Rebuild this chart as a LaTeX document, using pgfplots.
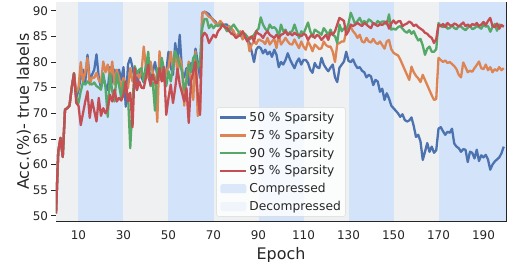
\documentclass[border=0pt]{standalone}
\usepackage{fontspec}
\setmainfont{DejaVu Sans}
\usepackage{pgfplots}
\pgfplotsset{compat=1.18}
\usepackage{pgfplotstable}
\definecolor{sbblue}{HTML}{4C72B0}
\definecolor{sborange}{HTML}{DD8452}
\definecolor{sbgreen}{HTML}{55A868}
\definecolor{sbred}{HTML}{C44E52}
\definecolor{compc}{HTML}{D3E3FA}
\definecolor{decompc}{HTML}{EEF0F2}
\definecolor{decompleg}{HTML}{EEF3FB}
\definecolor{txt}{HTML}{262626}
\pgfplotstableread{
e b o g r
0 50.5 50.5 50.5 50.5
1 62.5 62.5 62.5 62.5
2 65.2 65.2 65.2 65.2
3 61.5 61.5 61.5 61.5
4 70.7 70.7 70.7 70.7
5 71.0 71.0 71.0 71.0
6 71.5 71.5 71.5 71.5
7 75.0 75.0 75.0 75.0
8 77.8 77.8 77.8 77.8
9 73.0 74.0 73.0 72.0
10 74.5 75.0 72.0 71.5
11 77.0 80.0 74.3 67.7
12 78.5 76.2 76.0 70.0
13 76.0 78.0 75.6 72.3
14 81.4 80.8 76.2 74.3
15 76.5 75.6 75.8 69.1
16 77.5 77.0 75.6 72.6
17 78.5 76.9 76.0 70.5
18 81.5 77.9 75.3 68.4
19 77.0 76.5 75.0 73.0
20 75.0 75.9 74.6 69.5
21 77.0 80.1 77.8 71.0
22 75.5 78.0 75.0 70.0
23 74.5 79.5 69.3 71.0
24 79.0 76.9 77.8 73.6
25 76.0 80.1 74.3 72.3
26 78.5 75.6 72.3 74.6
27 77.0 78.5 77.8 72.3
28 78.5 77.0 75.5 73.0
29 76.5 74.9 73.0 72.5
30 79.0 76.9 76.2 73.6
31 71.3 75.5 74.5 76.2
32 79.5 74.9 73.6 72.3
33 80.8 78.8 63.2 74.0
34 79.0 76.2 72.0 67.3
35 76.5 77.5 79.2 78.8
36 74.5 78.2 77.8 74.6
37 78.5 76.9 78.5 76.2
38 77.0 78.0 78.8 75.0
39 76.0 83.0 76.2 74.9
40 79.5 79.0 79.0 77.0
41 77.5 76.9 82.0 79.5
42 75.5 80.1 75.3 75.6
43 78.0 78.0 76.0 77.5
44 80.0 76.9 70.5 76.0
45 77.5 68.3 78.8 75.9
46 76.5 82.1 77.0 78.8
47 79.5 78.0 80.8 76.2
48 77.0 76.2 78.5 79.0
49 78.0 78.2 75.3 69.7
50 82.0 79.0 78.2 73.0
51 79.0 82.0 76.2 75.6
52 77.5 78.8 79.0 72.0
53 83.7 82.0 82.1 75.0
54 80.0 77.9 80.8 78.7
55 85.3 80.8 79.5 75.6
56 78.2 79.0 78.2 74.0
57 77.0 71.5 74.5 72.3
58 78.8 77.0 76.2 74.9
59 75.5 80.1 79.5 68.1
60 79.8 76.0 78.0 76.2
61 78.0 72.6 80.8 78.0
62 82.6 82.1 81.4 80.1
63 80.0 69.5 78.8 73.6
64 76.9 70.0 80.0 69.7
65 89.5 89.6 86.6 84.9
66 89.8 89.8 88.4 85.7
67 89.6 89.3 88.4 85.2
68 89.3 88.8 86.6 83.7
69 88.6 88.6 87.3 84.5
70 88.2 88.0 86.6 85.3
71 87.8 87.5 87.2 84.8
72 87.0 87.3 87.0 86.0
73 87.6 88.0 87.3 86.5
74 87.0 87.5 87.3 87.3
75 87.3 86.8 86.8 86.8
76 87.3 86.6 86.0 86.6
77 86.3 87.0 86.3 86.0
78 86.5 86.5 86.8 85.5
79 85.7 86.0 87.3 85.3
80 84.7 84.7 86.6 84.7
81 85.5 85.5 86.0 85.0
82 85.3 86.0 85.3 85.3
83 84.5 84.4 85.7 86.0
84 85.0 85.3 85.5 85.0
85 84.3 85.0 84.9 84.0
86 83.7 82.1 84.4 84.7
87 82.0 83.4 84.8 85.0
88 80.0 84.0 85.3 84.0
89 82.4 83.5 86.0 86.0
90 83.0 84.4 86.5 85.5
91 82.7 84.2 88.7 85.3
92 81.7 84.0 87.3 84.7
93 82.4 83.5 86.5 85.5
94 81.5 84.7 86.0 86.0
95 82.0 83.4 87.3 85.3
96 81.0 84.0 86.6 85.0
97 82.4 84.5 86.8 84.7
98 81.4 82.7 86.3 85.3
99 79.0 85.3 85.0 84.7
100 80.0 83.4 87.3 85.3
101 79.5 84.0 86.0 85.5
102 80.4 84.7 86.3 86.0
103 81.7 84.0 85.3 85.3
104 80.5 83.5 85.8 85.6
105 79.6 83.4 86.0 85.2
106 78.8 84.4 87.3 85.7
107 80.0 83.5 86.0 85.3
108 80.7 82.7 84.7 85.3
109 79.5 84.0 86.0 85.0
110 80.4 83.0 85.5 85.5
111 80.4 82.4 86.6 85.3
112 79.8 84.0 87.7 84.3
113 78.5 83.2 86.0 85.0
114 77.9 82.1 84.9 85.3
115 79.8 83.4 86.3 84.7
116 79.0 83.0 86.0 85.3
117 78.8 82.5 85.7 85.0
118 80.8 82.7 85.3 84.3
119 79.5 84.0 86.6 84.8
120 78.8 83.3 86.0 85.3
121 78.2 83.0 85.3 84.3
122 78.9 83.0 86.3 85.7
123 79.5 82.0 85.3 85.3
124 77.0 80.0 85.0 86.0
125 76.1 83.5 83.7 87.3
126 78.9 83.7 87.3 88.6
127 79.5 84.0 86.0 88.3
128 80.1 84.0 86.6 88.0
129 82.0 86.0 86.3 85.3
130 80.2 86.5 87.5 86.0
131 80.0 86.8 89.6 87.3
132 80.5 86.0 88.5 87.0
133 79.5 85.5 87.3 87.3
134 78.8 84.7 88.0 87.6
135 79.0 85.3 88.6 87.3
136 78.3 84.0 87.6 87.0
137 78.0 83.8 88.0 87.6
138 77.0 84.7 87.5 87.3
139 77.5 84.0 88.3 86.9
140 77.2 83.8 88.0 86.6
141 75.5 84.5 87.5 87.6
142 76.5 83.8 87.3 87.3
143 76.2 83.5 88.0 87.0
144 74.2 84.0 87.6 87.4
145 74.8 83.3 87.9 87.2
146 72.6 82.6 87.9 87.6
147 73.9 84.0 87.3 87.9
148 72.9 84.3 89.3 86.5
149 71.5 82.5 86.3 87.5
150 71.0 81.8 86.5 88.1
151 70.5 81.5 86.3 87.5
152 70.0 81.3 86.8 87.9
153 69.3 80.5 87.0 88.0
154 69.8 79.5 86.5 87.0
155 68.7 78.5 86.0 87.3
156 68.4 77.5 85.7 87.5
157 68.6 76.5 86.2 87.9
158 69.2 79.1 85.5 87.6
159 67.5 78.0 86.0 87.0
160 65.4 77.3 85.0 87.3
161 65.8 76.8 84.2 86.8
162 64.5 76.1 84.5 86.5
163 60.9 77.5 83.2 86.2
164 62.5 76.5 81.4 85.7
165 64.2 75.5 82.6 85.5
166 62.5 74.5 83.0 85.0
167 63.5 73.5 82.0 84.7
168 62.3 72.6 82.0 83.7
169 62.8 72.8 82.5 84.5
170 67.0 80.8 87.6 87.3
171 67.3 80.4 87.0 87.0
172 66.5 80.0 86.8 87.4
173 65.8 80.3 87.3 86.8
174 66.4 79.8 86.5 87.6
175 66.2 80.0 86.6 87.2
176 67.0 79.6 87.2 87.0
177 64.1 79.2 86.6 87.5
178 63.5 78.6 86.4 87.3
179 63.2 77.5 87.0 86.9
180 62.5 77.0 86.9 87.3
181 63.0 79.9 86.5 87.7
182 62.9 79.0 86.2 87.0
183 60.5 78.0 86.7 87.3
184 62.5 78.3 87.1 86.9
185 62.3 78.1 86.4 87.4
186 61.2 78.8 86.6 87.2
187 62.9 79.4 87.0 87.6
188 60.7 80.1 86.8 87.0
189 61.8 78.8 86.5 87.3
190 61.4 78.6 87.2 87.8
191 61.9 79.5 86.9 87.2
192 61.0 78.4 87.0 88.0
193 59.0 79.0 85.9 88.6
194 60.0 78.0 86.8 87.0
195 60.6 78.6 87.4 86.8
196 61.0 78.3 86.1 87.5
197 61.4 79.0 87.3 86.5
198 62.2 78.4 87.1 87.2
199 63.5 78.8 86.9 86.9
}\acctable
\begin{document}
\begin{tikzpicture}
\useasboundingbox (-56bp,-41bp) rectangle (451bp,221bp);
\begin{axis}[
  at={(0,0)}, anchor=south west,
  width=450bp, height=218.5bp, scale only axis,
  xmin=0, xmax=200, ymin=49, ymax=91.6,
  xtick={10,30,...,190}, ytick={50,55,...,90},
  tick pos=left, tick align=outside,
  major tick length=4.5bp,
  xtick style={draw=none},
  ytick style={color=txt, line width=0.8bp},
  axis line style={color=txt, line width=0.9bp},
  /pgf/number format/assume math mode=true,
  ticklabel style={font=\fontsize{12}{14}\selectfont, color=txt},
  xticklabel style={yshift=-1.5bp},
  xlabel={Epoch}, ylabel={Acc.(\%)- true labels},
  label style={font=\fontsize{16}{19}\selectfont, color=txt},
  xlabel style={yshift=-0.5bp},
  ylabel style={yshift=-5bp},
  legend cell align=left,
  legend style={at={(0.5,0.02)}, anchor=south, font=\fontsize{12.3}{14}\selectfont,
    text=txt, fill=white, fill opacity=0.8, text opacity=1, draw=black!15,
    rounded corners=2bp, row sep=3bp, inner sep=2.5bp},
  mylineleg/.style={legend image code/.code={\draw[##1, line width=2.3bp] (0bp,0bp) -- (26bp,0bp);}},
  mypatchleg/.style={legend image code/.code={\fill[##1, draw=none] (0bp,-4.5bp) rectangle (26bp,4.5bp);}},
]
\addplot[fill=decompc, draw=none, forget plot] coordinates {(0,40) (10,40) (10,100) (0,100)} -- cycle;
\addplot[fill=compc, draw=none, forget plot] coordinates {(10,40) (30,40) (30,100) (10,100)} -- cycle;
\addplot[fill=decompc, draw=none, forget plot] coordinates {(30,40) (50,40) (50,100) (30,100)} -- cycle;
\addplot[fill=compc, draw=none, forget plot] coordinates {(50,40) (70,40) (70,100) (50,100)} -- cycle;
\addplot[fill=decompc, draw=none, forget plot] coordinates {(70,40) (90,40) (90,100) (70,100)} -- cycle;
\addplot[fill=compc, draw=none, forget plot] coordinates {(90,40) (110,40) (110,100) (90,100)} -- cycle;
\addplot[fill=decompc, draw=none, forget plot] coordinates {(110,40) (130,40) (130,100) (110,100)} -- cycle;
\addplot[fill=compc, draw=none, forget plot] coordinates {(130,40) (150,40) (150,100) (130,100)} -- cycle;
\addplot[fill=decompc, draw=none, forget plot] coordinates {(150,40) (170,40) (170,100) (150,100)} -- cycle;
\addplot[fill=compc, draw=none, forget plot] coordinates {(170,40) (200,40) (200,100) (170,100)} -- cycle;
\addplot[sbblue, line width=2.3bp, line join=round, mylineleg] table[x=e, y=b] {\acctable};
\addlegendentry{50 \% Sparsity}
\addplot[sborange, line width=2.3bp, line join=round, mylineleg] table[x=e, y=o] {\acctable};
\addlegendentry{75 \% Sparsity}
\addplot[sbgreen, line width=2.3bp, line join=round, mylineleg] table[x=e, y=g] {\acctable};
\addlegendentry{90 \% Sparsity}
\addplot[sbred, line width=2.3bp, line join=round, mylineleg] table[x=e, y=r] {\acctable};
\addlegendentry{95 \% Sparsity}
\addlegendimage{mypatchleg, fill=compc}
\addlegendentry{Compressed}
\addlegendimage{mypatchleg, fill=decompleg}
\addlegendentry{Decompressed}
\end{axis}
\end{tikzpicture}
\end{document}
